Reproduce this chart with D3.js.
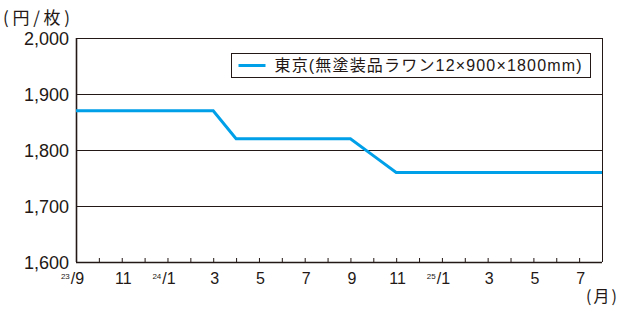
<!DOCTYPE html>
<html>
<head>
<meta charset="utf-8">
<script src="https://cdn.jsdelivr.net/npm/d3@7"></script>
<style>
    body { margin: 0; background: #fff; }
    text { font-family: "Liberation Sans", "Noto Sans CJK JP", sans-serif; fill: #231815; }
    .jp { font-family: "Noto Sans CJK JP", sans-serif; }
</style>
</head>
<body>
<svg width="621" height="310"></svg>
<script>
// months from 23/9 to 25/8 (index 0..23)
var months = ["9", "10", "11", "12", "1", "2", "3", "4", "5", "6", "7", "8",
    "9", "10", "11", "12", "1", "2", "3", "4", "5", "6", "7", "8"]
var year_marks = { 0: "23", 4: "24", 16: "25" }
// 東京 無塗装品ラワン 12x900x1800mm, 円/枚
var price = [1870, 1870, 1870, 1870, 1870, 1870, 1870,
    1820, 1820, 1820, 1820, 1820, 1820,
    1790,
    1760, 1760, 1760, 1760, 1760, 1760, 1760, 1760, 1760, 1760]
var y_ticks = [1600, 1700, 1800, 1900, 2000]
var series_name = "東京(無塗装品ラワン12×900×1800mm)"

var ink = "#231815"
var line_color = "#00a0e9"

function setup_svg() {
    var svg = d3.select("svg"),
        margin = { top: 38, right: 19, bottom: 48, left: 76 },
        width = svg.attr("width") - margin.left - margin.right,
        height = svg.attr("height") - margin.top - margin.bottom
    return { svg, margin, width, height }
}

function display_axis(svg, x_scale, y_scale) {
    // horizontal grid lines (also top and bottom of frame)
    svg.append("g")
        .selectAll("line")
        .data(y_ticks)
        .enter().append("line")
        .attr("x1", x_scale.range()[0])
        .attr("x2", x_scale.range()[1])
        .attr("y1", function (d) { return Math.round(y_scale(d)) + 0.5 })
        .attr("y2", function (d) { return Math.round(y_scale(d)) + 0.5 })
        .attr("stroke", ink)
        .attr("stroke-width", function (d) { return d == 1600 ? 1.6 : 1 })

    // left and right side of the frame
    svg.append("g")
        .selectAll("line")
        .data(x_scale.range())
        .enter().append("line")
        .attr("x1", function (d) { return Math.round(d) + 0.5 })
        .attr("x2", function (d) { return Math.round(d) + 0.5 })
        .attr("y1", y_scale.range()[1])
        .attr("y2", y_scale.range()[0])
        .attr("stroke", ink)
        .attr("stroke-width", function (d, i) { return i == 0 ? 1.6 : 1 })

    // y labels
    svg.append("g")
        .selectAll("text")
        .data(y_ticks)
        .enter().append("text")
        .attr("x", 69)
        .attr("y", function (d) { return y_scale(d) + 7 })
        .attr("text-anchor", "end")
        .attr("font-size", "18px")
        .text(d3.format(","))

    // x ticks, pointing up into the plot
    var bottom = y_scale.range()[0]
    svg.append("g")
        .attr("transform", "translate(0," + bottom + ")")
        .call(d3.axisBottom(x_scale)
            .tickValues(d3.range(1, months.length - 1))
            .tickSize(-4)
            .tickFormat(""))
        .call(function (g) {
            g.select(".domain").remove()
            g.selectAll(".tick line").attr("stroke", ink)
        })

    // x labels on every other month, year as small digits before the slash
    var lab = svg.append("g")
    for (var i = 0; i < months.length; i += 2) {
        var x = x_scale(i) + 1.5
        var is_year = (i in year_marks)
        var t = lab.append("text")
            .attr("x", x)
            .attr("y", 284)
            .attr("text-anchor", "middle")
            .attr("font-size", "16px")
            .text(is_year ? "/" + months[i] : months[i])
        if (is_year) {
            var w = t.node().getComputedTextLength()
            lab.append("text")
                .attr("x", x - w / 2 - 1)
                .attr("y", 278.5)
                .attr("text-anchor", "end")
                .attr("font-size", "8px")
                .text(year_marks[i])
        }
    }

    svg.append("text")
        .attr("class", "jp")
        .attr("x", 586)
        .attr("y", 302)
        .attr("font-size", "16px")
        .attr("textLength", 31)
        .text("(月)")

    svg.append("text")
        .attr("class", "jp")
        .attr("x", 3)
        .attr("y", 24)
        .attr("font-size", "17px")
        .attr("textLength", 67)
        .text("(円/枚)")
}

function draw_line_chart(svg, x_scale, y_scale) {
    var line = d3.line()
        .x(function (d, i) { return x_scale(i) })
        .y(function (d) { return y_scale(d) })

    svg.append("path")
        .datum(price)
        .attr("fill", "none")
        .attr("stroke", line_color)
        .attr("stroke-width", 3)
        .attr("d", line)
}

function display_legend(svg) {
    var legend = svg.append("g")
        .attr("transform", "translate(231.5,53.5)")
    legend.append("rect")
        .attr("width", 359)
        .attr("height", 24)
        .attr("fill", "#fff")
        .attr("stroke", ink)
    legend.append("line")
        .attr("x1", 7)
        .attr("x2", 34)
        .attr("y1", 12)
        .attr("y2", 12)
        .attr("stroke", line_color)
        .attr("stroke-width", 3)
    legend.append("text")
        .attr("x", 43)
        .attr("y", 17.5)
        .attr("font-size", "16px")
        .attr("textLength", 307)
        .text(series_name)
}

function display_chart() {
    var { svg, margin, width, height } = setup_svg()

    var x_scale = d3.scaleLinear()
        .domain([0, months.length - 1])
        .range([margin.left, margin.left + width])
    var y_scale = d3.scaleLinear()
        .domain([1600, 2000])
        .range([margin.top + height, margin.top])

    display_axis(svg, x_scale, y_scale)
    draw_line_chart(svg, x_scale, y_scale)
    display_legend(svg)
}

display_chart()
</script>
</body>
</html>
